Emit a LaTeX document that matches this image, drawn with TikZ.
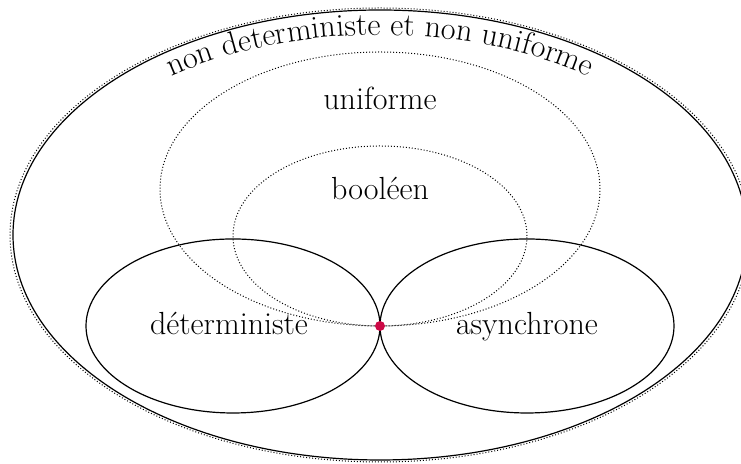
\documentclass[tikz,border=0pt]{standalone}
\usepackage{xcolor}
\usepackage{tikz}
\usetikzlibrary{decorations.text}
\definecolor{pointred}{RGB}{204, 10, 70}
\tikzset{
  setline/.style={draw=black, line width=0.6pt},
  softline/.style={draw=black, line width=0.5pt, densely dotted},
  setlabel/.style={font=\fontsize{16}{19}\selectfont, inner sep=0pt, anchor=base},
  meetpoint/.style={circle, fill=pointred, inner sep=0pt, minimum size=5pt}
}

\begin{document}
\begin{tikzpicture}[x=0.5pt, y=0.5pt]
  \useasboundingbox (0,0) rectangle (741,464);

  % Outer set
  \draw[softline] (380,229) ellipse[x radius=370, y radius=227];
  \draw[setline] (380,229) ellipse[x radius=367, y radius=225];
  \path[decorate, decoration={text along path, text align=center,
      text={|\fontsize{16}{19}\selectfont|non deterministe et non uniforme}}]
    (38,229) arc[start angle=180, end angle=0, x radius=342, y radius=200];

  % Dotted sets
  \draw[softline] (380,275) ellipse[x radius=220, y radius=137];
  \draw[softline] (380,228) ellipse[x radius=147, y radius=90];

  % Solid sets
  \draw[setline] (233,138) ellipse[x radius=147, y radius=87];
  \draw[setline] (527,138) ellipse[x radius=147, y radius=87];

  % Labels
  \node[setlabel] (unif) at (380,354) {uniforme};
  \node[setlabel] (bool) at (380,264) {booléen};
  \node[setlabel] (det) at (229,129) {déterministe};
  \node[setlabel] (async) at (527,129) {asynchrone};

  % Common point
  \node[meetpoint] (meet) at (380,138) {};

\end{tikzpicture}
\end{document}
